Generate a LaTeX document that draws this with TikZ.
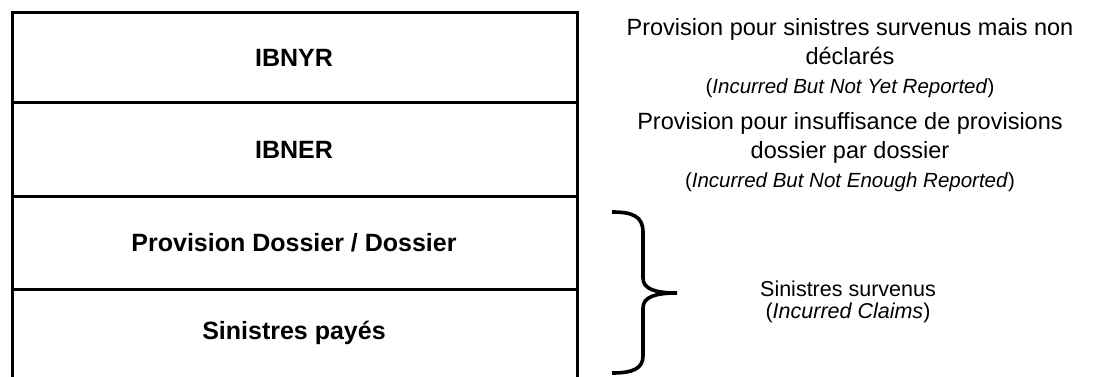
\documentclass[tikz,border=0pt]{standalone}
\usepackage{fontspec}
\setmainfont{Liberation Sans}
\usetikzlibrary{positioning}

\begin{document}
\begin{tikzpicture}[x=1pt,y=-1pt]

\tikzstyle{frame}=[line width=3pt]
\tikzstyle{layer}=[font=\fontsize{25}{30}\selectfont\bfseries]
\tikzstyle{note}=[align=center,inner sep=0pt,font=\fontsize{23.5}{29}\selectfont]
\tikzstyle{brace}=[line width=3.6pt]

\useasboundingbox (0,0) rectangle (1101,377);

% the stacked reserves
\draw[frame] (12,377) -- (12,13) -- (577,13) -- (577,377);
\draw[frame] (12,103) -- (577,103);
\draw[frame] (12,197) -- (577,197);
\draw[frame] (12,289) -- (577,289);

\node[layer] (ibnyr) at (294,58) {IBNYR};
\node[layer] (ibner) at (294,150) {IBNER};
\node[layer] (dossier) at (294,243) {Provision Dossier / Dossier};
\node[layer] (payes) at (294,333) {Sinistres payés};

% what each layer stands for
\node[note, anchor=north] (ibnyrnote) at (850,18)
  {Provision pour sinistres survenus mais non\\ déclarés\\
   {\fontsize{20.5}{23}\selectfont(\textit{Incurred But Not Yet Reported})}};
\node[note, anchor=north] (ibnernote) at (850,112)
  {Provision pour insuffisance de provisions\\ dossier par dossier\\
   {\fontsize{20.5}{23}\selectfont(\textit{Incurred But Not Enough Reported})}};

% the brace over the last two layers
\coordinate (tip) at (677,293);
\draw[brace] (612,212) .. controls (632,212) and (643,216) .. (643,232)
  -- (643,278) .. controls (643,289) and (655,293) .. (tip)
  .. controls (655,293) and (643,297) .. (643,308)
  -- (643,356) .. controls (643,369) and (632,373) .. (612,373);

\node[note, font=\fontsize{21.5}{22}\selectfont, anchor=north] (incurred) at (848,281)
  {Sinistres survenus\\ (\textit{Incurred Claims})};

\end{tikzpicture}
\end{document}
